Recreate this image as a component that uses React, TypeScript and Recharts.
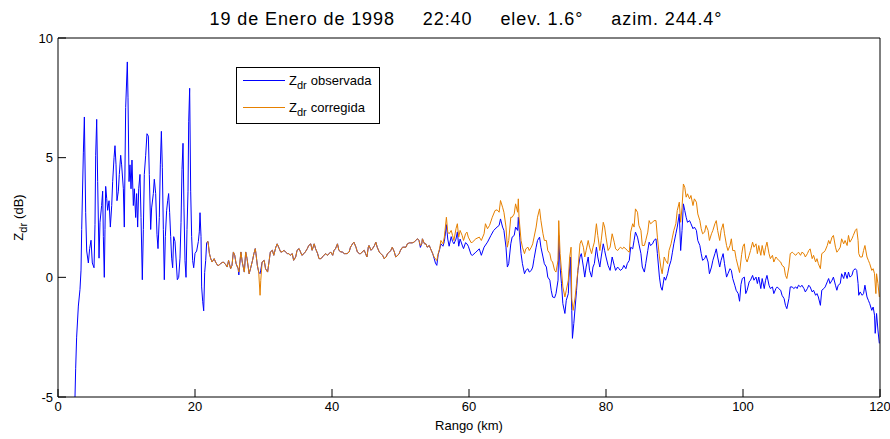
import React from 'react';
import { LineChart, Line, XAxis, YAxis, Legend } from 'recharts';

// Z_dr (dB) vs range (km), pairs of [km, dB]
const obsNear: [number, number][] = [
  [2.48, -5], [2.58, -3.8], [2.72, -2.5], [2.97, -1.2], [3.21, -0.5], [3.36, 0.3], [3.46, 2.0], [3.7, 5.2],
  [3.85, 6.7], [4.04, 2.7], [4.19, 1.1], [4.43, 0.6], [4.62, 1.2], [4.82, 1.55], [5.01, 0.6], [5.26, 0.4],
  [5.4, 2.2], [5.5, 5.1], [5.65, 6.6], [5.79, 4.0], [5.99, 0.8], [6.13, 2.3], [6.37, 3.0], [6.52, 3.6],
  [6.62, 1.7], [6.76, 0.0], [6.86, 2.0], [6.96, 3.8], [7.11, 3.3], [7.25, 2.8], [7.45, 3.2], [7.64, 2.1],
  [7.84, 3.0], [7.98, 4.0], [8.18, 5.0], [8.32, 5.5], [8.47, 4.7], [8.61, 3.2], [8.81, 3.6], [8.95, 4.3],
  [9.15, 5.1], [9.29, 4.7], [9.54, 3.7], [9.68, 2.1], [9.88, 7.1], [10.12, 9.0], [10.22, 7.5], [10.37, 4.0],
  [10.51, 4.7], [10.66, 3.7], [10.8, 4.9], [11.0, 3.0], [11.14, 3.7], [11.34, 2.5], [11.48, 3.5], [11.63, 2.1],
  [11.78, 3.7], [11.97, 4.3], [12.12, 2.5], [12.31, -0.1], [12.46, 2.0], [12.6, 4.3], [12.8, 5.1], [12.99, 6.0],
  [13.19, 5.9], [13.33, 4.3], [13.53, 2.0], [13.67, 2.9], [13.92, 3.5], [14.06, 4.1], [14.26, 3.5], [14.45, 1.8],
  [14.6, 1.2], [14.79, 2.5], [14.94, 4.7], [15.09, 6.1], [15.23, 4.6], [15.38, 2.0], [15.52, -0.1], [15.67, 1.7],
  [15.86, 2.8], [16.01, 3.2], [16.15, 3.5], [16.3, 2.7], [16.45, 1.7], [16.59, 0.8], [16.74, 0.4], [16.89, 1.7],
  [17.08, 1.5], [17.27, 0.6], [17.42, -0.1], [17.62, 0.0], [17.81, 0.8], [17.96, 2.3], [18.1, 4.5], [18.25, 5.6],
  [18.39, 2.9], [18.54, 0.7], [18.69, 0.0], [18.83, 2.0], [18.98, 3.6], [19.08, 6.5], [19.22, 7.9], [19.37, 3.6],
  [19.51, 1.7], [19.66, 0.7], [19.81, 0.4], [20.0, 1.0], [20.24, 1.1], [20.49, 1.5], [20.63, 1.9], [20.73, 2.7],
  [20.88, 1.7], [20.97, -0.4], [21.12, -1.0], [21.27, -1.4], [21.41, 0.2], [21.56, 0.7],
];

const obsMid: [number, number][] = [
  [21.7, 1.45], [21.9, 1.5], [22.1, 1.0], [22.3, 0.78], [22.5, 0.64], [22.8, 0.78], [23.0, 0.64], [23.3, 0.5],
  [23.5, 0.5], [23.7, 0.57], [24.1, 0.64], [24.4, 0.57], [24.7, 0.43], [24.9, 0.71], [25.2, 0.36], [25.4, 0.5],
  [25.6, 1.06], [25.8, 0.92], [26.0, 0.57], [26.3, 0.36], [26.4, 0.1], [26.7, 1.06], [26.9, 0.64], [27.2, 0.22],
  [27.4, 1.06], [27.6, 0.78], [27.9, 0.15], [28.1, 0.36], [28.4, 0.71], [28.6, 0.99], [28.8, 1.2], [28.9, 0.99],
  [29.1, 0.5], [29.3, 0.22], [29.5, 0.15], [29.6, 0.3], [29.8, 0.64], [30.1, 0.71], [30.3, 0.36], [30.6, 0.22],
  [30.8, 0.64], [31.0, 1.06], [31.3, 1.13], [31.5, 0.92], [31.8, 1.26], [32.0, 1.4], [32.3, 1.2], [32.5, 1.06],
  [32.7, 1.06], [33.0, 1.13], [33.2, 1.06], [33.5, 0.99], [33.7, 0.99], [33.9, 0.92], [34.2, 0.99], [34.4, 0.71],
  [34.7, 0.85], [34.9, 1.13], [35.2, 1.2], [35.4, 1.06], [35.6, 0.92], [35.9, 0.99], [36.1, 1.06], [36.4, 1.2],
  [36.6, 1.33], [36.9, 1.4], [37.1, 1.13], [37.4, 1.4], [37.6, 1.2], [37.9, 0.99], [38.1, 0.78], [38.4, 0.78],
  [38.6, 0.85], [38.8, 0.92], [39.1, 0.99], [39.3, 0.92], [39.6, 0.99], [39.8, 1.06], [40.1, 0.92], [40.3, 1.13],
  [40.5, 1.19], [40.8, 1.4], [41.0, 1.13], [41.3, 1.06], [41.5, 1.06], [41.8, 0.99], [42.0, 0.99], [42.2, 0.99],
  [42.5, 1.06], [42.7, 1.26], [43.0, 1.4], [43.2, 1.47], [43.5, 1.26], [43.7, 1.06], [44.0, 0.99], [44.2, 0.99],
  [44.4, 1.06], [44.7, 1.13], [44.9, 0.99], [45.1, 0.85], [45.3, 1.26], [45.4, 1.33], [45.7, 1.13], [45.9, 1.19],
  [46.2, 1.33], [46.4, 1.47], [46.6, 1.26], [46.9, 1.06], [47.1, 0.99], [47.4, 0.92], [47.6, 0.78], [47.9, 0.85],
  [48.1, 0.99], [48.4, 1.06], [48.6, 1.13], [48.8, 1.26], [49.1, 1.06], [49.3, 0.85], [49.6, 0.92], [49.8, 0.99],
  [50.0, 1.13], [50.3, 1.26], [50.5, 1.26], [50.8, 1.26], [51.0, 1.4], [51.3, 1.44], [51.5, 1.44], [51.7, 1.44],
  [52.0, 1.47], [52.2, 1.54], [52.5, 1.61], [52.7, 1.54], [52.9, 1.25], [53.1, 1.4], [53.2, 1.61], [53.5, 1.4],
  [53.7, 1.4], [53.9, 1.26], [54.2, 1.33], [54.4, 1.19], [54.7, 0.99], [54.9, 0.8], [55.1, 0.6], [55.3, 0.5],
  [55.5, 0.95], [55.7, 1.15], [55.9, 1.4], [56.2, 1.3], [56.4, 1.5], [56.5, 1.7], [56.7, 2.2], [56.9, 1.6],
  [57.1, 1.3], [57.4, 1.7], [57.6, 1.5], [57.8, 1.4], [58.1, 1.6], [58.3, 1.9], [58.5, 1.3], [58.7, 1.6],
  [59.0, 1.35], [59.2, 1.2], [59.5, 1.45], [59.7, 1.4], [59.9, 1.3], [60.3, 0.95],
];

const obsFar: [number, number][] = [
  [60.5, 0.92], [61.0, 1.05], [61.5, 1.19], [61.8, 0.92], [62.2, 1.26], [62.7, 1.47], [63.2, 1.75], [63.6, 1.96],
  [64.1, 2.1], [64.4, 2.17], [64.6, 2.44], [64.9, 2.1], [65.1, 1.96], [65.4, 1.26], [65.6, 0.43], [65.8, 0.57],
  [66.1, 1.4], [66.3, 1.68], [66.6, 1.75], [66.8, 2.1], [67.1, 1.96], [67.2, 2.51], [67.4, 1.68], [67.6, 0.99],
  [67.8, 0.57], [68.1, 0.15], [68.3, 0.29], [68.6, 0.36], [68.8, 0.22], [69.1, 0.29], [69.3, 0.43], [69.5, 0.78],
  [69.8, 1.26], [70.0, 1.54], [70.3, 1.68], [70.5, 1.26], [70.8, 0.85], [71.0, 0.57], [71.3, 0.43], [71.5, 0.01],
  [71.8, -0.12], [72.0, -0.54], [72.2, -0.82], [72.5, -0.85], [72.7, -0.68], [73.0, -0.12], [73.1, 1.75], [73.3, 0.43],
  [73.5, -0.26], [73.7, -1.1], [74.0, -1.51], [74.2, -0.96], [74.5, -0.68], [74.6, 0.01], [74.8, 0.85], [75.0, -1.38],
  [75.1, -2.55], [75.3, -1.93], [75.5, -1.24], [75.7, -0.54], [75.9, 0.29], [76.2, 0.85], [76.4, 0.99], [76.7, 0.43],
  [76.9, 0.01], [77.1, 0.43], [77.4, 0.85], [77.6, 0.29], [77.9, 0.01], [78.1, 0.43], [78.3, 0.57], [78.6, 1.26],
  [78.8, 0.85], [79.1, 0.43], [79.3, 0.85], [79.6, 1.4], [79.8, 1.12], [80.0, 0.85], [80.3, 0.5], [80.6, 0.29],
  [80.9, 0.85], [81.2, 0.5], [81.4, 0.29], [81.7, 0.43], [81.9, 0.36], [82.1, 0.29], [82.4, 0.36], [82.6, 0.5],
  [82.9, 0.36], [83.1, 0.57], [83.4, 0.71], [83.6, 1.26], [83.9, 1.19], [84.1, 1.54], [84.3, 1.89], [84.6, 1.68],
  [84.8, 1.4], [85.1, 0.99], [85.3, 0.43], [85.6, 0.22], [85.8, 0.57], [86.1, 1.12], [86.3, 1.47], [86.5, 1.33],
  [86.8, 1.4], [87.0, 1.54], [87.3, 1.61], [87.5, 0.99], [87.8, 0.01], [88.0, -0.4], [88.2, -0.54], [88.5, 0.01],
  [88.7, -0.12], [89.0, 0.15], [89.2, 0.43], [89.5, 0.71], [89.7, 1.05], [89.9, 1.4], [90.2, 1.82], [90.4, 2.1],
  [90.7, 2.65], [90.9, 1.12], [91.1, 1.96], [91.3, 3.07], [91.5, 2.79], [91.7, 2.51], [91.9, 2.3], [92.2, 2.37],
  [92.4, 2.24], [92.7, 2.03], [92.9, 2.1], [93.2, 1.96], [93.4, 1.54], [93.7, 1.33], [93.9, 0.99], [94.1, 0.71],
  [94.4, 0.78], [94.6, 0.92], [94.9, 0.64], [95.1, 0.15], [95.4, 0.43], [95.6, 0.71], [95.9, 0.99], [96.1, 1.19],
  [96.3, 0.85], [96.6, 0.43], [96.8, 0.71], [97.1, 0.99], [97.3, 0.57], [97.6, 0.01], [97.8, 0.15], [98.1, 0.36],
  [98.3, 0.29], [98.5, -0.05], [98.8, -0.33], [99.0, -0.54], [99.3, -0.68], [99.5, -1.0], [99.7, -0.3], [99.9, -0.05],
  [100.2, 0.01], [100.4, -0.68], [100.6, -0.54], [100.9, -0.19], [101.1, -0.12], [101.4, 0.08], [101.6, -0.12], [101.9, 0.01],
  [102.1, -0.26], [102.3, 0.01], [102.6, -0.47], [102.8, -0.05], [103.1, -0.47], [103.3, -0.12], [103.5, 0.08], [103.8, -0.33],
  [104.0, -0.47], [104.3, -0.4], [104.5, -0.68], [104.8, -0.47], [105.0, -0.4], [105.2, -0.47], [105.5, -0.54], [105.7, -0.75],
  [106.0, -0.89], [106.2, -1.17], [106.4, -1.31], [106.7, -0.89], [106.9, -0.4], [107.2, -0.4], [107.4, -0.47], [107.7, -0.4],
  [107.9, -0.47], [108.1, -0.33], [108.4, -0.4], [108.6, -0.33], [108.9, -0.47], [109.1, -0.61], [109.4, -0.47], [109.6, -0.33],
  [109.8, -0.4], [110.1, -0.61], [110.3, -0.54], [110.6, -0.75], [110.8, -0.68], [111.0, -0.82], [111.3, -1.17], [111.5, -0.54],
  [111.8, -0.47], [112.0, -0.4], [112.3, -0.19], [112.5, -0.05], [112.7, -0.26], [113.0, -0.12], [113.2, 0.01], [113.5, -0.33],
  [113.7, -0.54], [113.9, -0.33], [114.2, -0.26], [114.4, 0.15], [114.7, -0.05], [114.9, 0.22], [115.2, -0.05], [115.4, 0.22],
  [115.6, 0.01], [115.9, 0.08], [116.1, 0.29], [116.4, 0.36], [116.6, 0.29], [116.8, -0.26], [116.9, -0.75], [117.1, -0.61],
  [117.4, -0.75], [117.6, -0.68], [117.8, -0.33], [118.1, -0.82], [118.3, -0.96], [118.5, -1.1], [118.8, -1.38], [119.0, -1.24],
  [119.2, -1.58], [119.3, -2.34], [119.5, -1.51], [119.7, -2.2], [119.9, -2.76],
];

const corMid: [number, number][] = [
  [21.7, 1.45], [21.9, 1.5], [22.1, 1.0], [22.3, 0.78], [22.5, 0.64], [22.8, 0.78], [23.0, 0.64], [23.3, 0.5],
  [23.5, 0.5], [23.7, 0.57], [24.1, 0.64], [24.4, 0.57], [24.7, 0.43], [24.9, 0.71], [25.2, 0.36], [25.4, 0.5],
  [25.6, 1.06], [25.8, 0.92], [26.0, 0.57], [26.3, 0.36], [26.4, 0.22], [26.7, 1.06], [26.9, 0.64], [27.2, 0.22],
  [27.4, 1.06], [27.6, 0.78], [27.9, 0.15], [28.1, 0.36], [28.4, 0.71], [28.6, 0.99], [28.8, 1.2], [28.9, 0.99],
  [29.1, 0.5], [29.3, 0.22], [29.5, -0.75], [29.6, -0.13], [29.8, 0.64], [30.1, 0.71], [30.3, 0.36], [30.6, 0.22],
  [30.8, 0.64], [31.0, 1.06], [31.3, 1.13], [31.5, 0.92], [31.8, 1.26], [32.0, 1.4], [32.3, 1.2], [32.5, 1.06],
  [32.7, 1.06], [33.0, 1.13], [33.2, 1.06], [33.5, 0.99], [33.7, 0.99], [33.9, 0.92], [34.2, 0.99], [34.4, 0.71],
  [34.7, 0.85], [34.9, 1.13], [35.2, 1.2], [35.4, 1.06], [35.6, 0.92], [35.9, 0.99], [36.1, 1.06], [36.4, 1.2],
  [36.6, 1.33], [36.9, 1.4], [37.1, 1.13], [37.4, 1.4], [37.6, 1.2], [37.9, 0.99], [38.1, 0.78], [38.4, 0.78],
  [38.6, 0.85], [38.8, 0.92], [39.1, 0.99], [39.3, 0.92], [39.6, 0.99], [39.8, 1.06], [40.1, 0.92], [40.3, 1.13],
  [40.5, 1.19], [40.8, 1.4], [41.0, 1.13], [41.3, 1.06], [41.5, 1.06], [41.8, 0.99], [42.0, 0.99], [42.2, 0.99],
  [42.5, 1.06], [42.7, 1.26], [43.0, 1.4], [43.2, 1.47], [43.5, 1.26], [43.7, 1.06], [44.0, 0.99], [44.2, 0.99],
  [44.4, 1.06], [44.7, 1.13], [44.9, 0.99], [45.1, 0.85], [45.3, 1.26], [45.4, 1.33], [45.7, 1.13], [45.9, 1.19],
  [46.2, 1.33], [46.4, 1.47], [46.6, 1.26], [46.9, 1.06], [47.1, 0.99], [47.4, 0.92], [47.6, 0.78], [47.9, 0.85],
  [48.1, 0.99], [48.4, 1.06], [48.6, 1.13], [48.8, 1.26], [49.1, 1.06], [49.3, 0.85], [49.6, 0.92], [49.8, 0.99],
  [50.0, 1.13], [50.3, 1.26], [50.5, 1.26], [50.8, 1.26], [51.0, 1.4], [51.3, 1.44], [51.5, 1.44], [51.7, 1.44],
  [52.0, 1.47], [52.2, 1.54], [52.5, 1.61], [52.7, 1.54], [52.9, 1.33], [53.1, 1.4], [53.2, 1.61], [53.5, 1.4],
  [53.7, 1.4], [53.9, 1.26], [54.2, 1.33], [54.4, 1.19], [54.7, 0.99], [54.9, 0.85], [55.1, 0.78], [55.3, 0.7],
  [55.5, 0.99], [55.7, 1.19], [55.9, 1.54], [56.2, 1.4], [56.4, 1.68], [56.5, 1.96], [56.7, 2.51], [56.9, 1.89],
  [57.1, 1.82], [57.4, 1.96], [57.6, 1.75], [57.8, 1.54], [58.1, 2.03], [58.3, 2.24], [58.5, 1.68], [58.7, 1.96],
  [59.0, 1.75], [59.2, 1.54], [59.5, 1.82], [59.7, 1.89], [59.9, 1.68], [60.3, 1.45],
];

const corFar: [number, number][] = [
  [60.5, 1.47], [61.0, 1.61], [61.5, 1.68], [61.8, 1.54], [62.2, 1.82], [62.4, 2.24], [62.7, 2.03], [63.0, 2.17],
  [63.4, 2.51], [63.8, 2.79], [64.1, 2.82], [64.4, 2.72], [64.6, 3.21], [64.9, 2.93], [65.1, 2.72], [65.4, 2.1],
  [65.6, 1.26], [65.8, 1.54], [66.1, 2.51], [66.3, 2.51], [66.6, 2.65], [66.8, 3.07], [67.1, 2.72], [67.2, 3.28],
  [67.3, 2.51], [67.6, 1.54], [67.8, 1.26], [68.1, 0.99], [68.3, 1.19], [68.6, 1.26], [68.8, 1.12], [69.1, 1.26],
  [69.3, 1.4], [69.5, 1.68], [69.8, 2.1], [70.0, 2.51], [70.3, 2.86], [70.5, 2.37], [70.8, 1.82], [71.0, 1.54],
  [71.3, 1.54], [71.5, 1.12], [71.8, 0.99], [72.0, 0.71], [72.2, 0.64], [72.5, 0.29], [72.7, 0.22], [73.0, 0.71],
  [73.1, 2.37], [73.3, 0.99], [73.5, 0.29], [73.7, -0.4], [74.0, -0.82], [74.2, -0.54], [74.5, -0.12], [74.7, 0.85],
  [74.9, 1.26], [75.0, -0.89], [75.2, -1.38], [75.5, -0.82], [75.7, -0.26], [75.9, 0.29], [76.2, 1.4], [76.4, 1.54],
  [76.7, 1.26], [76.9, 0.85], [77.1, 1.12], [77.4, 1.54], [77.6, 1.26], [77.9, 0.99], [78.1, 1.26], [78.3, 1.47],
  [78.6, 2.24], [78.8, 1.75], [79.1, 1.12], [79.3, 1.54], [79.6, 2.3], [79.8, 2.1], [80.0, 1.68], [80.3, 1.12],
  [80.6, 1.26], [80.9, 1.82], [81.2, 1.47], [81.4, 1.19], [81.7, 1.12], [81.9, 1.19], [82.1, 1.26], [82.4, 1.19],
  [82.6, 1.26], [82.9, 1.19], [83.1, 1.12], [83.4, 1.05], [83.6, 1.89], [83.9, 2.24], [84.1, 2.1], [84.3, 2.86],
  [84.6, 2.72], [84.8, 2.17], [85.1, 1.96], [85.3, 1.33], [85.6, 1.33], [85.8, 1.54], [86.1, 1.89], [86.3, 2.37],
  [86.5, 2.24], [86.8, 2.3], [87.0, 2.37], [87.3, 2.37], [87.5, 1.68], [87.8, 0.85], [88.0, 0.43], [88.2, 0.15],
  [88.5, 0.85], [88.7, 0.71], [89.0, 0.57], [89.2, 1.12], [89.5, 1.4], [89.7, 1.68], [89.9, 1.96], [90.2, 2.24],
  [90.4, 2.79], [90.7, 3.14], [90.9, 2.3], [91.1, 2.93], [91.3, 3.9], [91.5, 3.76], [91.7, 3.35], [91.9, 3.49],
  [92.2, 3.28], [92.4, 3.42], [92.7, 3.0], [92.9, 3.28], [93.2, 3.14], [93.4, 2.65], [93.7, 2.37], [93.9, 2.03],
  [94.1, 1.82], [94.4, 1.89], [94.6, 2.17], [94.9, 1.96], [95.1, 1.54], [95.4, 1.82], [95.6, 1.96], [95.9, 2.24],
  [96.1, 2.37], [96.3, 1.96], [96.6, 1.54], [96.8, 1.96], [97.1, 2.24], [97.3, 1.82], [97.6, 1.33], [97.8, 1.12],
  [98.1, 1.33], [98.3, 1.61], [98.5, 1.12], [98.8, 1.12], [99.0, 0.78], [99.3, 0.43], [99.5, 0.2], [99.8, 0.95],
  [100.0, 1.3], [100.2, 1.4], [100.4, 0.78], [100.6, 0.64], [100.9, 0.92], [101.1, 1.12], [101.4, 1.47], [101.6, 1.26],
  [101.9, 1.4], [102.1, 0.99], [102.3, 1.33], [102.6, 0.92], [102.8, 1.33], [103.1, 0.92], [103.3, 1.26], [103.5, 1.47],
  [103.8, 0.99], [104.0, 0.78], [104.3, 0.92], [104.5, 0.64], [104.8, 0.85], [105.0, 0.78], [105.2, 0.71], [105.5, 0.64],
  [105.7, 0.5], [106.0, 0.43], [106.2, 0.08], [106.4, -0.05], [106.7, 0.43], [106.9, 0.99], [107.2, 1.05], [107.4, 0.99],
  [107.7, 0.92], [107.9, 0.99], [108.1, 1.05], [108.4, 0.92], [108.6, 1.05], [108.9, 0.99], [109.1, 0.85], [109.4, 0.99],
  [109.6, 1.12], [109.8, 1.19], [110.1, 0.78], [110.3, 0.92], [110.6, 0.64], [110.8, 0.78], [111.0, 0.57], [111.3, 0.36],
  [111.5, 0.99], [111.8, 1.05], [112.0, 1.12], [112.3, 1.33], [112.5, 1.54], [112.7, 1.4], [113.0, 1.68], [113.2, 1.75],
  [113.5, 1.26], [113.7, 1.05], [113.9, 1.12], [114.2, 1.26], [114.4, 1.61], [114.7, 1.4], [114.9, 1.54], [115.2, 1.33],
  [115.4, 1.75], [115.6, 1.47], [115.9, 1.61], [116.1, 1.75], [116.4, 1.96], [116.6, 2.03], [116.8, 1.54], [116.9, 0.99],
  [117.1, 0.85], [117.4, 0.85], [117.6, 1.12], [117.8, 1.33], [118.1, 0.85], [118.3, 0.71], [118.5, 0.57], [118.8, 0.29],
  [119.0, 0.36], [119.2, 0.15], [119.4, -0.68], [119.5, 0.15], [119.7, -0.26], [119.9, -0.82],
];

const xTicks = [0, 20, 40, 60, 80, 100, 120];
const yTicks = [-5, 0, 5, 10];
const titleParts = ['19 de Enero de 1998', '22:40', 'elev. 1.6°', 'azim. 244.4°'];

const toRows = (pairs: [number, number][]) => pairs.map(([km, z]) => ({ km, z }));
const observada = toRows([...obsNear, ...obsMid, ...obsFar]);
const corregida = toRows([...corMid, ...corFar]);

const BLUE = '#0000ff';
const ORANGE = '#e68000';
const FONT = '"Liberation Sans", Arial, Helvetica, sans-serif';

function LegendBox() {
  const rows = [
    { color: BLUE, text: 'observada' },
    { color: ORANGE, text: 'corregida' },
  ];
  return (
    <svg width={144} height={57} style={{ display: 'block', fontFamily: FONT }}>
      <rect x={0.5} y={0.5} width={143} height={56} fill="#fff" stroke="#000" />
      {rows.map((r, i) => {
        const y = 13.5 + i * 27;
        return (
          <g key={r.text}>
            <line x1={7} x2={49} y1={y} y2={y} stroke={r.color} strokeWidth={1} />
            <text x={53} y={y + 4} fontSize={13} fill="#000">
              Z
              <tspan dy={4} fontSize={11}>dr</tspan>
              <tspan dy={-4} dx={4}>{r.text}</tspan>
            </text>
          </g>
        );
      })}
    </svg>
  );
}

export default function App() {
  return (
    <div style={{ position: 'absolute', left: 0, top: 0, width: 890, height: 439, background: '#fff', fontFamily: FONT }}>
      <div
        style={{
          position: 'absolute',
          left: 466,
          top: 10,
          transform: 'translateX(-50%)',
          display: 'flex',
          gap: 28,
          fontSize: 18,
          lineHeight: '18px',
          letterSpacing: 0.9,
          whiteSpace: 'nowrap',
          color: '#000',
        }}
      >
        {titleParts.map((t) => (
          <span key={t}>{t}</span>
        ))}
      </div>
      <LineChart width={890} height={439} margin={{ top: 8, right: 0, bottom: 0, left: 0 }} style={{ fontFamily: FONT }}>
        <XAxis
          dataKey="km"
          type="number"
          domain={[0, 120]}
          ticks={xTicks}
          interval={0}
          height={42}
          tickSize={-8}
          tickMargin={13}
          tick={{ fontSize: 13, fill: '#000' }}
          axisLine={{ stroke: '#000' }}
          tickLine={{ stroke: '#000' }}
          label={{
            content: ({ viewBox }: any) => (
              <text x={viewBox.x + viewBox.width / 2} y={viewBox.y + 33} textAnchor="middle" fontSize={13} fill="#000">
                Rango (km)
              </text>
            ),
          }}
        />
        <XAxis
          xAxisId="top"
          orientation="top"
          dataKey="km"
          type="number"
          domain={[0, 120]}
          ticks={xTicks}
          interval={0}
          height={30}
          tickSize={-8}
          tick={false}
          axisLine={{ stroke: '#000' }}
          tickLine={{ stroke: '#000' }}
        />
        <YAxis
          type="number"
          domain={[-5, 10]}
          ticks={yTicks}
          interval={0}
          width={58}
          tickSize={-8}
          tickMargin={13}
          tick={{ fontSize: 13, fill: '#000' }}
          axisLine={{ stroke: '#000' }}
          tickLine={{ stroke: '#000' }}
          label={{
            content: ({ viewBox }: any) => {
              const cx = 23;
              const cy = viewBox.y + viewBox.height / 2;
              return (
                <text x={cx} y={cy} transform={`rotate(-90, ${cx}, ${cy})`} textAnchor="middle" fontSize={13} fill="#000">
                  Z
                  <tspan dy={4} fontSize={11}>dr</tspan>
                  <tspan dy={-4} dx={4}>(dB)</tspan>
                </text>
              );
            },
          }}
        />
        <YAxis
          yAxisId="right"
          orientation="right"
          type="number"
          domain={[-5, 10]}
          ticks={yTicks}
          interval={0}
          width={10}
          tickSize={-8}
          tick={false}
          axisLine={{ stroke: '#000' }}
          tickLine={{ stroke: '#000' }}
        />
        <Line
          data={observada}
          dataKey="z"
          name="observada"
          type="linear"
          stroke={BLUE}
          strokeWidth={1}
          dot={false}
          activeDot={false}
          isAnimationActive={false}
        />
        <Line
          data={corregida}
          dataKey="z"
          name="corregida"
          type="linear"
          stroke={ORANGE}
          strokeWidth={1}
          dot={false}
          activeDot={false}
          isAnimationActive={false}
        />
        <Legend
          layout="vertical"
          align="center"
          verticalAlign="middle"
          content={() => <LegendBox />}
          wrapperStyle={{ left: 236, top: 67, width: 144, height: 57 }}
        />
      </LineChart>
    </div>
  );
}
